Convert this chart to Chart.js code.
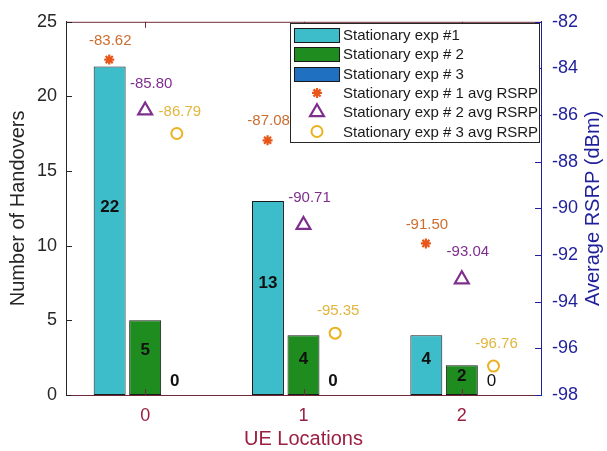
<!DOCTYPE html>
<html>
<head>
<meta charset="utf-8">
<script src="https://cdn.jsdelivr.net/npm/chart.js@4"></script>
<style>
  html, body { margin: 0; padding: 0; background: #fff; }
</style>
</head>
<body>
<canvas id="grafico" width="607" height="451"></canvas>
<script>
// dados
const locais = ['0', '1', '2'];
const handoversExp1 = [22, 13, 4];
const handoversExp2 = [5, 4, 2];
const handoversExp3 = [0, 0, 0];
const rsrpExp1 = [-83.62, -87.08, -91.50];
const rsrpExp2 = [-85.80, -90.71, -93.04];
const rsrpExp3 = [-86.79, -95.35, -96.76];
const ticksHandovers = [0, 5, 10, 15, 20, 25];
const ticksRsrp = [-98, -96, -94, -92, -90, -88, -86, -84, -82];

const FONTE = '"Liberation Sans", Arial, Helvetica, sans-serif';
const corEixoX = '#9a1f40';
const corLinhaX = '#6e2a3a';
const corEixoDir = '#1f1f9c';
const corEixoEsq = '#262626';

// deslocamento dos marcadores em relação ao centro de cada local
const deslocMarcador = [-0.227, 0, 0.2];

function barras(valores) {
  return valores.map((v, i) => ({ x: i, y: v }));
}

function pontos(valores, k) {
  return valores.map((v, i) => ({ x: i + deslocMarcador[k], y: v }));
}

const datasets = [
  { type: 'bar', label: 'Stationary exp #1', data: barras(handoversExp1), backgroundColor: '#3dbdc9' },
  { type: 'bar', label: 'Stationary exp # 2', data: barras(handoversExp2), backgroundColor: '#1f8c1f' },
  { type: 'bar', label: 'Stationary exp # 3', data: barras(handoversExp3), backgroundColor: '#1f70c1' },
  { type: 'scatter', label: 'Stationary exp # 1 avg RSRP', data: pontos(rsrpExp1, 0),
    pointStyle: 'star', radius: 5, borderWidth: 2.2, borderColor: '#e8561a', backgroundColor: '#e8561a',
    textColor: '#cc6d30', dx: 1, dy: -19 },
  { type: 'scatter', label: 'Stationary exp # 2 avg RSRP', data: pontos(rsrpExp2, 1),
    pointStyle: 'triangle', radius: 8, borderWidth: 2.2, borderColor: '#7e2f8e', backgroundColor: 'rgba(0,0,0,0)',
    textColor: '#7e2f8e', dx: 6, dy: -27 },
  { type: 'scatter', label: 'Stationary exp # 3 avg RSRP', data: pontos(rsrpExp3, 2),
    pointStyle: 'circle', radius: 5.5, borderWidth: 2, borderColor: '#edb120', backgroundColor: 'rgba(0,0,0,0)',
    textColor: '#e2b53c', dx: 3, dy: -22 }
];

datasets.forEach(ds => {
  ds.xAxisID = 'x';
  if (ds.type === 'bar') {
    ds.borderColor = '#1a1a1a';
    ds.borderWidth = 1;
    ds.borderSkipped = false;
    ds.yAxisID = 'y';
    ds.grouped = true;
    ds.categoryPercentage = 0.673;
    ds.barPercentage = 0.9;
  } else {
    ds.yAxisID = 'y2';
    ds.showLine = false;
    ds.pointRadius = ds.radius;
  }
});

function linha(ctx, x1, y1, x2, y2) {
  ctx.beginPath();
  ctx.moveTo(x1, y1);
  ctx.lineTo(x2, y2);
  ctx.stroke();
}

function marcador(ctx, ds, x, y) {
  const opts = {
    pointStyle: ds.pointStyle, radius: ds.radius, borderWidth: ds.borderWidth, rotation: 0
  };
  ctx.save();
  ctx.strokeStyle = ds.borderColor;
  ctx.fillStyle = ds.backgroundColor;
  ctx.lineWidth = ds.borderWidth;
  Chart.helpers.drawPoint(ctx, opts, x, y);
  ctx.restore();
}

// ticks para dentro, linha de cima, rótulos e legenda
const extras = {
  id: 'extras',
  afterDatasetsDraw(chart) {
    const ctx = chart.ctx;
    const area = chart.chartArea;
    const sx = chart.scales.x, sy = chart.scales.y, sy2 = chart.scales.y2;
    const tam = 6;
    ctx.save();
    ctx.lineWidth = 1;

    ctx.strokeStyle = corLinhaX;
    linha(ctx, area.left, area.top + 0.5, area.right, area.top + 0.5);
    locais.forEach((_, i) => {
      const px = Math.round(sx.getPixelForValue(i)) + 0.5;
      linha(ctx, px, area.bottom, px, area.bottom - tam);
      linha(ctx, px, area.top, px, area.top + tam);
    });

    ctx.strokeStyle = corEixoEsq;
    ticksHandovers.forEach(v => {
      const py = Math.round(sy.getPixelForValue(v)) + 0.5;
      linha(ctx, area.left, py, area.left + tam, py);
    });

    ctx.strokeStyle = corEixoDir;
    ticksRsrp.forEach(v => {
      const py = Math.round(sy2.getPixelForValue(v)) + 0.5;
      linha(ctx, area.right, py, area.right - tam, py);
    });

    // valores das barras
    const base = sy.getPixelForValue(0);
    ctx.textAlign = 'center';
    ctx.textBaseline = 'middle';
    ctx.fillStyle = '#111';
    for (let d = 0; d < 3; d++) {
      const meta = chart.getDatasetMeta(d);
      meta.data.forEach((el, i) => {
        const v = chart.data.datasets[d].data[i].y;
        const py = Math.min(sy.getPixelForValue(v * 0.567 + 0.13), base - 14);
        const normal = d === 2 && i === 2;
        ctx.font = (normal ? '' : 'bold ') + '17px ' + FONTE;
        ctx.fillText(String(v), el.x - (d === 2 ? 6 : 0), py);
      });
    }

    // valores de RSRP
    ctx.font = '15px ' + FONTE;
    for (let d = 3; d < 6; d++) {
      const ds = chart.data.datasets[d];
      const meta = chart.getDatasetMeta(d);
      ctx.fillStyle = ds.textColor;
      meta.data.forEach((el, i) => {
        ctx.fillText(ds.data[i].y.toFixed(2), el.x + ds.dx, el.y + ds.dy);
      });
    }

    // título do eixo direito
    ctx.save();
    ctx.translate(593, (area.top + area.bottom) / 2);
    ctx.rotate(-Math.PI / 2);
    ctx.fillStyle = corEixoDir;
    ctx.font = '20px ' + FONTE;
    ctx.fillText('Average RSRP (dBm)', 0, 0);
    ctx.restore();

    // legenda
    const lx = 290.5, ly = 23.5, lw = 249, lh = 119;
    ctx.fillStyle = '#fff';
    ctx.fillRect(lx, ly, lw, lh);
    ctx.strokeStyle = '#262626';
    ctx.strokeRect(lx, ly, lw, lh);
    ctx.font = '15px ' + FONTE;
    ctx.textAlign = 'left';
    chart.data.datasets.forEach((ds, k) => {
      const cy = 35 + k * 19.3;
      if (ds.type === 'bar') {
        ctx.fillStyle = ds.backgroundColor;
        ctx.fillRect(294.5, Math.round(cy - 7) + 0.5, 45, 14);
        ctx.strokeStyle = '#1a1a1a';
        ctx.strokeRect(294.5, Math.round(cy - 7) + 0.5, 45, 14);
      } else {
        marcador(ctx, ds, 317, cy);
      }
      ctx.fillStyle = '#1a1a1a';
      ctx.fillText(ds.label, 343, cy + 1);
    });
    ctx.restore();
  }
};

Chart.defaults.font.family = FONTE;

new Chart(document.getElementById('grafico').getContext('2d'), {
  type: 'bar',
  data: { datasets: datasets },
  options: {
    responsive: false,
    animation: false,
    layout: { padding: { top: 18, left: 0, right: 0, bottom: 0 } },
    scales: {
      x: {
        type: 'linear',
        position: 'bottom',
        min: -0.5,
        max: 2.5,
        offset: false,
        grid: { display: false, drawTicks: false },
        border: { color: corLinhaX, width: 1 },
        afterBuildTicks(s) { s.ticks = locais.map((_, i) => ({ value: i })); },
        ticks: {
          color: corEixoX, font: { size: 18 }, padding: 10,
          callback: v => locais[v]
        },
        title: { display: true, text: 'UE Locations', color: corEixoX, font: { size: 20 }, padding: { top: 0, bottom: 0 } },
        afterFit(s) { s.height = 56; }
      },
      y: {
        type: 'linear',
        position: 'left',
        min: 0,
        max: 25,
        grid: { display: false, drawTicks: false },
        border: { color: corEixoEsq, width: 1 },
        ticks: { color: corEixoEsq, font: { size: 18 }, padding: 9 },
        afterBuildTicks(s) { s.ticks = ticksHandovers.map(v => ({ value: v })); },
        title: { display: true, text: 'Number of Handovers', color: corEixoEsq, font: { size: 20 }, padding: { top: 6, bottom: 0 } },
        afterFit(s) { s.width = 66; }
      },
      y2: {
        type: 'linear',
        position: 'right',
        min: -98,
        max: -82,
        grid: { display: false, drawTicks: false },
        border: { color: corEixoDir, width: 1 },
        ticks: { color: corEixoDir, font: { size: 18 }, padding: 11 },
        afterBuildTicks(s) { s.ticks = ticksRsrp.map(v => ({ value: v })); },
        afterFit(s) { s.width = 66; }
      }
    },
    plugins: {
      legend: { display: false },
      tooltip: { enabled: false }
    }
  },
  plugins: [extras]
});
</script>
</body>
</html>
